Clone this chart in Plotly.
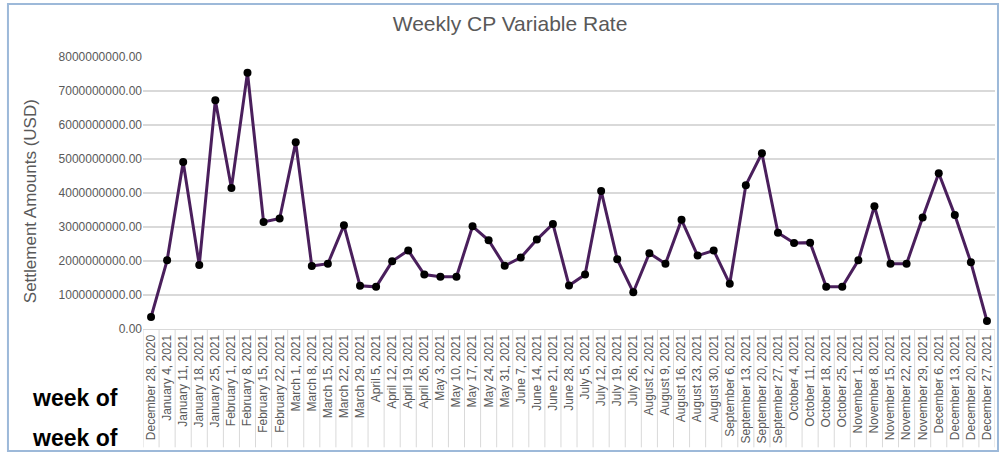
import plotly.graph_objects as go

weeks = [
    "December 28, 2020", "January 4, 2021", "January 11, 2021", "January 18, 2021",
    "January 25, 2021", "February 1, 2021", "February 8, 2021", "February 15, 2021",
    "February 22, 2021", "March 1, 2021", "March 8, 2021", "March 15, 2021",
    "March 22, 2021", "March 29, 2021", "April 5, 2021", "April 12, 2021",
    "April 19, 2021", "April 26, 2021", "May 3, 2021", "May 10, 2021",
    "May 17, 2021", "May 24, 2021", "May 31, 2021", "June 7, 2021",
    "June 14, 2021", "June 21, 2021", "June 28, 2021", "July 5, 2021",
    "July 12, 2021", "July 19, 2021", "July 26, 2021", "August 2, 2021",
    "August 9, 2021", "August 16, 2021", "August 23, 2021", "August 30, 2021",
    "September 6, 2021", "September 13, 2021", "September 20, 2021", "September 27, 2021",
    "October 4, 2021", "October 11, 2021", "October 18, 2021", "October 25, 2021",
    "November 1, 2021", "November 8, 2021", "November 15, 2021", "November 22, 2021",
    "November 29, 2021", "December 6, 2021", "December 13, 2021", "December 20, 2021",
    "December 27, 2021",
]

settlement_billions = [
    0.35, 2.02, 4.91, 1.88, 6.73, 4.15, 7.54, 3.15, 3.25, 5.49,
    1.85, 1.92, 3.05, 1.27, 1.24, 1.99, 2.31, 1.60, 1.54, 1.54,
    3.02, 2.61, 1.86, 2.10, 2.63, 3.09, 1.28, 1.60, 4.06, 2.05,
    1.08, 2.23, 1.92, 3.21, 2.16, 2.31, 1.33, 4.23, 5.17, 2.83,
    2.53, 2.54, 1.24, 1.24, 2.02, 3.61, 1.92, 1.92, 3.28, 4.58,
    3.35, 1.96, 0.235,
]
settlement = [v * 1e9 for v in settlement_billions]

GRAY = "#595959"
GRID = "#D9D9D9"

fig = go.Figure()
fig.add_trace(go.Scatter(
    x=list(range(len(weeks))), y=settlement, mode="lines+markers",
    line=dict(color="#4A1F5C", width=3),
    marker=dict(color="black", size=8),
    hoverinfo="y",
))

shapes = []
# category separators in the label area (Excel style)
for k in range(len(weeks) + 1):
    shapes.append(dict(type="line", xref="x", yref="paper",
                       x0=k - 0.5, x1=k - 0.5, y0=0, y1=-0.435,
                       line=dict(color=GRID, width=1)))
# outer chart border
shapes.append(dict(type="rect", xref="paper", yref="paper",
                   x0=-0.1585, x1=1.0035, y0=-0.4485, y1=1.195,
                   line=dict(color="#9DB9D9", width=2), fillcolor="rgba(0,0,0,0)"))

fig.update_layout(
    width=1008, height=453,
    margin=dict(l=143, r=13, t=57, b=124, autoexpand=False),
    paper_bgcolor="white", plot_bgcolor="white",
    showlegend=False,
    font=dict(family="Liberation Sans, Arial, sans-serif", color=GRAY),
    title=dict(text="Weekly CP Variable Rate", x=0.506, xanchor="center",
               y=1 - 24 / 453, yanchor="middle",
               font=dict(size=21, color=GRAY)),
    xaxis=dict(
        tickmode="array", tickvals=list(range(len(weeks))), ticktext=weeks,
        tickangle=-90, range=[-0.5, len(weeks) - 0.5], automargin=False,
        showgrid=False, showline=True, linecolor=GRID, linewidth=1,
        ticks="", tickfont=dict(size=12, color=GRAY), zeroline=False,
    ),
    yaxis=dict(
        range=[0, 8e9], dtick=1e9, tick0=0, tickformat=".2f", automargin=False,
        showgrid=True, gridcolor=GRID, gridwidth=1.5, zeroline=False,
        showline=False, ticks="", tickfont=dict(size=12, color=GRAY),
    ),
    shapes=shapes,
    annotations=[
        dict(text="Settlement Amounts (USD)", xref="paper", yref="paper",
             x=-0.1326, y=0.47, xanchor="center", yanchor="middle",
             textangle=-90, showarrow=False, font=dict(size=17, color=GRAY)),
        dict(text="<b>week of</b>", xref="paper", yref="paper",
             x=-0.0798, y=-0.2537, xanchor="center", yanchor="middle",
             showarrow=False, font=dict(size=23, color="black")),
        dict(text="<b>week of</b>", xref="paper", yref="paper",
             x=-0.0798, y=-0.40, xanchor="center", yanchor="middle",
             showarrow=False, font=dict(size=23, color="black")),
    ],
)

fig.write_html("out.html", config={"displayModeBar": False},
               post_script="document.body.style.margin='0';document.body.style.overflow='hidden';")
